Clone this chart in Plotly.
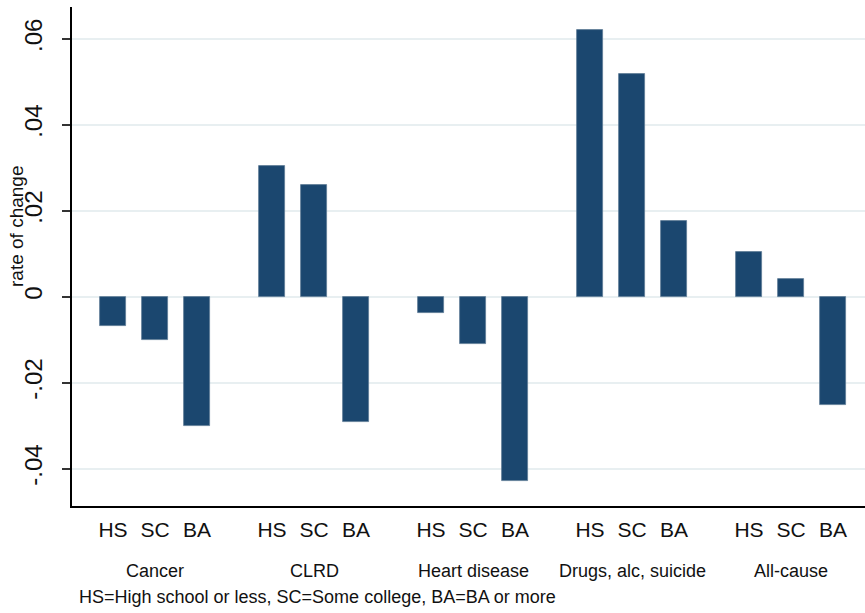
import plotly.graph_objects as go

# rate of change in mortality, by cause and education
causes = ["Cancer", "CLRD", "Heart disease", "Drugs, alc, suicide", "All-cause"]
edu = ["HS", "SC", "BA"]
hs = [-0.0069, 0.0304, -0.0039, 0.0620, 0.0104]
sc = [-0.0100, 0.0259, -0.0109, 0.0519, 0.0040]
ba = [-0.0302, -0.0292, -0.0428, 0.0177, -0.0251]

ytick_vals = [-0.04, -0.02, 0, 0.02, 0.04, 0.06]
ytick_text = ["-.04", "-.02", "0", ".02", ".04", ".06"]
note = "HS=High school or less, SC=Some college, BA=BA or more"

FONT = "Liberation Sans, Arial, sans-serif"
BAR = "#1b476f"
GRID = "#e8eff1"
GROUP_STEP = 159 / 42  # spacing between cause groups, in bar slots
W, H = 865, 613
L, R, T, B = 72, 0, 7, 107
PW, PH = W - L - R, H - T - B

values = [hs, sc, ba]
xs, ys, labels = [], [], []
for g in range(len(causes)):
    for k in range(len(edu)):
        xs.append(g * GROUP_STEP + k)
        ys.append(values[k][g])
        labels.append(edu[k])

fig = go.Figure(
    go.Bar(
        x=xs,
        y=ys,
        width=26 / 42,
        marker=dict(color=BAR, line=dict(color="#5d7b96", width=0.8)),
        hoverinfo="y",
    )
)

# cause names under each group
for g, name in enumerate(causes):
    fig.add_annotation(
        x=g * GROUP_STEP + 1, y=0, xref="x", yref="paper",
        text=name, showarrow=False, yanchor="middle", yshift=-65,
        font=dict(family=FONT, size=18, color="#111"),
    )

fig.add_annotation(
    x=5 / PW, y=0, xref="paper", yref="paper", xanchor="left", yanchor="middle",
    yshift=-91, text=note, showarrow=False,
    font=dict(family=FONT, size=18, color="#111"),
)
# axis title placed by hand (Stata-like position)
fig.add_annotation(
    x=(16 - L) / PW, y=(H - B - 226) / PH, xref="paper", yref="paper",
    xanchor="center", yanchor="middle", textangle=-90,
    text="rate of change", showarrow=False,
    font=dict(family=FONT, size=19, color="#111"),
)

fig.update_layout(
    width=W,
    height=H,
    margin=dict(l=L, r=R, t=T, b=B),
    paper_bgcolor="white",
    plot_bgcolor="white",
    showlegend=False,
    bargap=0,
    xaxis=dict(
        range=[-41 / 42, 752 / 42],
        tickvals=xs,
        ticktext=labels,
        ticks="",
        showgrid=False,
        zeroline=False,
        showline=True,
        linecolor="black",
        linewidth=1.5,
        tickfont=dict(family=FONT, size=21, color="#111"),
        ticklabelstandoff=4,
        automargin=False,
    ),
    yaxis=dict(
        range=[-0.0487, 0.0674],
        tickvals=ytick_vals,
        ticktext=ytick_text,
        tickangle=-90,
        ticks="outside",
        ticklen=8,
        tickwidth=1.5,
        tickcolor="#333",
        showgrid=True,
        gridcolor=GRID,
        gridwidth=2,
        zeroline=False,
        showline=True,
        linecolor="black",
        linewidth=1.5,
        tickfont=dict(family=FONT, size=24, color="#111"),
        ticklabelstandoff=11,
        automargin=False,
    ),
)

# page body has a default 8px margin; drop it so the figure sits at 0,0
fig.write_html(
    "out.html",
    config={"displayModeBar": False},
    post_script="document.body.style.margin='0';",
)
